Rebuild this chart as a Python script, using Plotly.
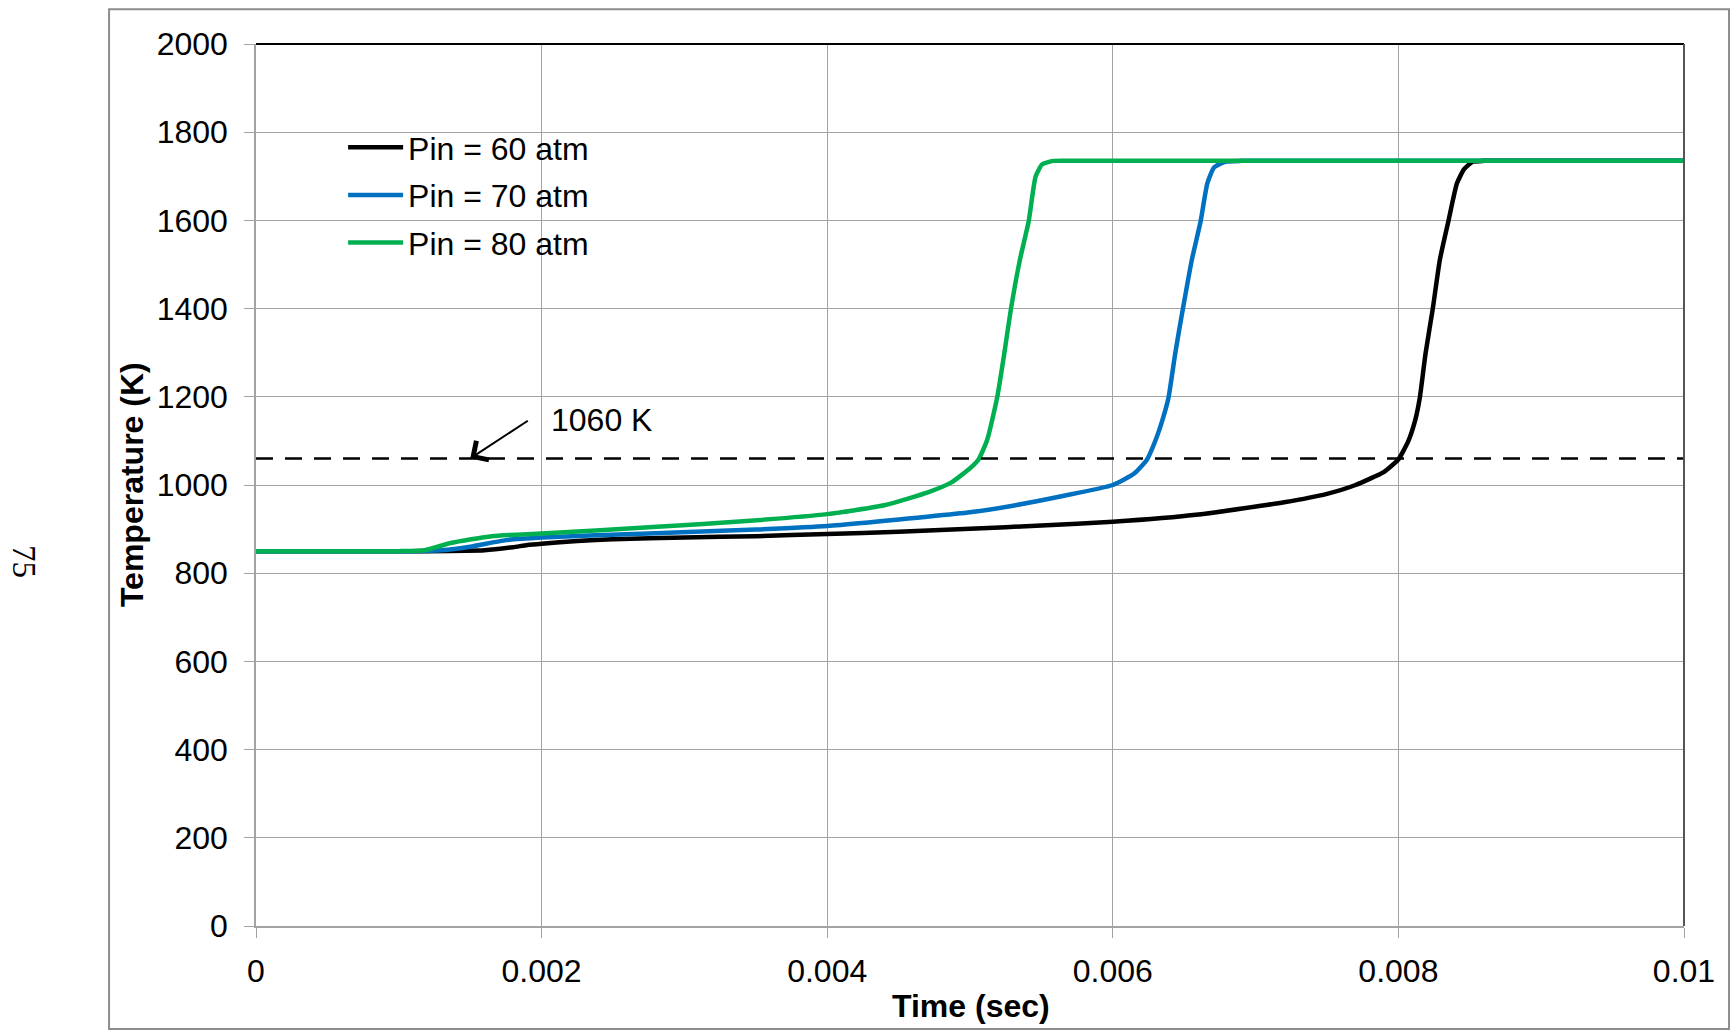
import plotly.graph_objects as go

# Temperature history for three inlet pressures
t_60 = [0, 0.0012, 0.0016, 0.0018, 0.0019, 0.002, 0.00225, 0.0025, 0.003, 0.0035,
        0.004, 0.0045, 0.005, 0.0055, 0.006, 0.0066, 0.0072, 0.0075, 0.0077, 0.0079, 0.008,
        0.00807, 0.00812, 0.00815, 0.00819, 0.00824, 0.00829, 0.00835, 0.00841,
        0.00846, 0.00852, 0.0086, 0.0088, 0.0092, 0.01]
T_60 = [850, 850, 852, 859, 864, 867, 873, 877, 881, 884,
        889, 894, 901, 908, 916.5, 933, 961, 980, 1000, 1030, 1058,
        1100, 1150, 1198, 1298, 1398, 1510, 1598, 1684,
        1716, 1733, 1735, 1735, 1735, 1735]

t_70 = [0, 0.0011, 0.0013, 0.0015, 0.00175, 0.002, 0.00275, 0.0035, 0.004, 0.0047,
        0.005, 0.0053, 0.00565, 0.006, 0.00615, 0.00624, 0.0063, 0.00635, 0.00639,
        0.006437, 0.00649, 0.006553, 0.006615, 0.006662, 0.006709, 0.006787, 0.0069,
        0.0071, 0.0076, 0.01]
T_70 = [850, 850, 852, 860, 875, 881, 890, 899, 907, 928,
        938, 953, 975, 1000, 1026, 1058, 1102, 1150, 1198,
        1298, 1398, 1510, 1598, 1684, 1720, 1733, 1735,
        1735, 1735, 1735]

t_80 = [0, 0.001, 0.00118, 0.00137, 0.00165, 0.002, 0.00275, 0.00346, 0.004, 0.0044,
        0.00471, 0.00487, 0.005, 0.00506, 0.00512, 0.00519, 0.00524, 0.005286,
        0.005349, 0.005411, 0.005459, 0.005505, 0.005583, 0.0058, 0.0062, 0.007, 0.01]
T_80 = [850, 850, 852, 869, 884, 890, 904, 919, 934, 954,
        984, 1006, 1038, 1058, 1102, 1198, 1298, 1398,
        1510, 1598, 1699, 1727, 1735, 1735, 1735, 1735, 1735]

series_names = ["Pin = 60 atm", "Pin = 70 atm", "Pin = 80 atm"]
series_colors = ["#000000", "#0070C0", "#00B050"]

THRESHOLD_K = 1060
threshold_label = "1060 K"
arrow_head_t = 0.0015
arrow_tail_t = 0.001914
arrow_tail_T = 1148

x_ticks = [0, 0.002, 0.004, 0.006, 0.008, 0.01]
x_tick_text = ["0", "0.002", "0.004", "0.006", "0.008", "0.01"]
y_ticks = [0, 200, 400, 600, 800, 1000, 1200, 1400, 1600, 1800, 2000]

FONT = "Liberation Sans, Arial, sans-serif"
FS = 32
GRID = "#a3a3a3"

fig = go.Figure()
for i, (t, T) in enumerate([(t_60, T_60), (t_70, T_70), (t_80, T_80)]):
    fig.add_trace(go.Scatter(
        x=t, y=T, mode="lines", name=series_names[i],
        legendgroup=series_names[i],
        line=dict(color=series_colors[i], width=4.5, shape="spline", smoothing=0.5),
    ))

# threshold line across the whole time range
fig.add_shape(type="line", xref="x", yref="y", x0=x_ticks[0], x1=x_ticks[-1],
              y0=THRESHOLD_K, y1=THRESHOLD_K,
              line=dict(color="#000000", width=2.5, dash="17px,12px"))

# plot-area border: dark top and right edges
fig.add_shape(type="line", xref="paper", yref="paper", x0=0, x1=1, y0=1, y1=1,
              line=dict(color="#000000", width=2))
fig.add_shape(type="line", xref="paper", yref="paper", x0=1, x1=1, y0=0, y1=1,
              line=dict(color="#555555", width=2))

# outer chart frame
fig.add_shape(type="rect", xref="paper", yref="paper",
              x0=-0.1029, x1=1.0315, y0=-0.1168, y1=1.0393,
              line=dict(color="#8c8c8c", width=2), fillcolor="rgba(0,0,0,0)", layer="below")

# arrow pointing at the threshold line
fig.add_annotation(x=arrow_head_t, y=THRESHOLD_K, xref="x", yref="y",
                   ax=arrow_tail_t, ay=arrow_tail_T, axref="x", ayref="y",
                   text=" ", font=dict(size=1), showarrow=True,
                   arrowhead=4, arrowsize=2.2, arrowwidth=2, arrowcolor="#000000")
fig.add_annotation(x=0.00205, y=arrow_tail_T, xref="x", yref="y",
                   text=threshold_label, showarrow=False, xanchor="left", yanchor="middle",
                   font=dict(family=FONT, size=FS, color="#000000"))

# axis titles
fig.add_annotation(x=0.5007, y=-0.0907, xref="paper", yref="paper",
                   text="Time (sec)", showarrow=False, xanchor="center", yanchor="middle",
                   font=dict(family=FONT, size=FS, color="#000000", weight="bold"))
fig.add_annotation(x=-0.0868, y=0.5, xref="paper", yref="paper",
                   text="Temperature (K)", showarrow=False, textangle=-90,
                   xanchor="center", yanchor="middle",
                   font=dict(family=FONT, size=FS, color="#000000", weight="bold"))

# page number
fig.add_annotation(x=-0.1625, y=0.4127, xref="paper", yref="paper",
                   text="75", showarrow=False, textangle=90,
                   xanchor="center", yanchor="middle",
                   font=dict(family="Liberation Serif, Times New Roman, serif", size=33,
                             color="#000000"))

fig.update_xaxes(range=[0, 0.01], tickvals=x_ticks, ticktext=x_tick_text,
                 showgrid=True, gridcolor=GRID, gridwidth=1.3,
                 showline=True, linecolor=GRID, linewidth=1.5,
                 ticks="outside", ticklen=10, tickcolor=GRID, tickwidth=1.3,
                 tickfont=dict(family=FONT, size=FS, color="#000000"),
                 ticklabelstandoff=6, zeroline=False)
fig.update_yaxes(range=[0, 2000], tickvals=y_ticks,
                 showgrid=True, gridcolor=GRID, gridwidth=1.3,
                 showline=True, linecolor=GRID, linewidth=1.5,
                 ticks="outside", ticklen=10, tickcolor=GRID, tickwidth=1.3,
                 tickfont=dict(family=FONT, size=FS, color="#000000"),
                 ticklabelstandoff=10, zeroline=False)

fig.update_layout(
    width=1730, height=1034, autosize=False,
    margin=dict(l=256, r=46, t=44, b=108),
    paper_bgcolor="#ffffff", plot_bgcolor="#ffffff",
    showlegend=True,
    legend=dict(x=0.061, y=0.9138, xanchor="left", yanchor="top",
                bgcolor="rgba(0,0,0,0)", borderwidth=0,
                font=dict(family=FONT, size=FS, color="#000000"),
                itemwidth=55, tracegroupgap=3, traceorder="grouped"),
    font=dict(family=FONT),
)

fig.write_html("out.html")
